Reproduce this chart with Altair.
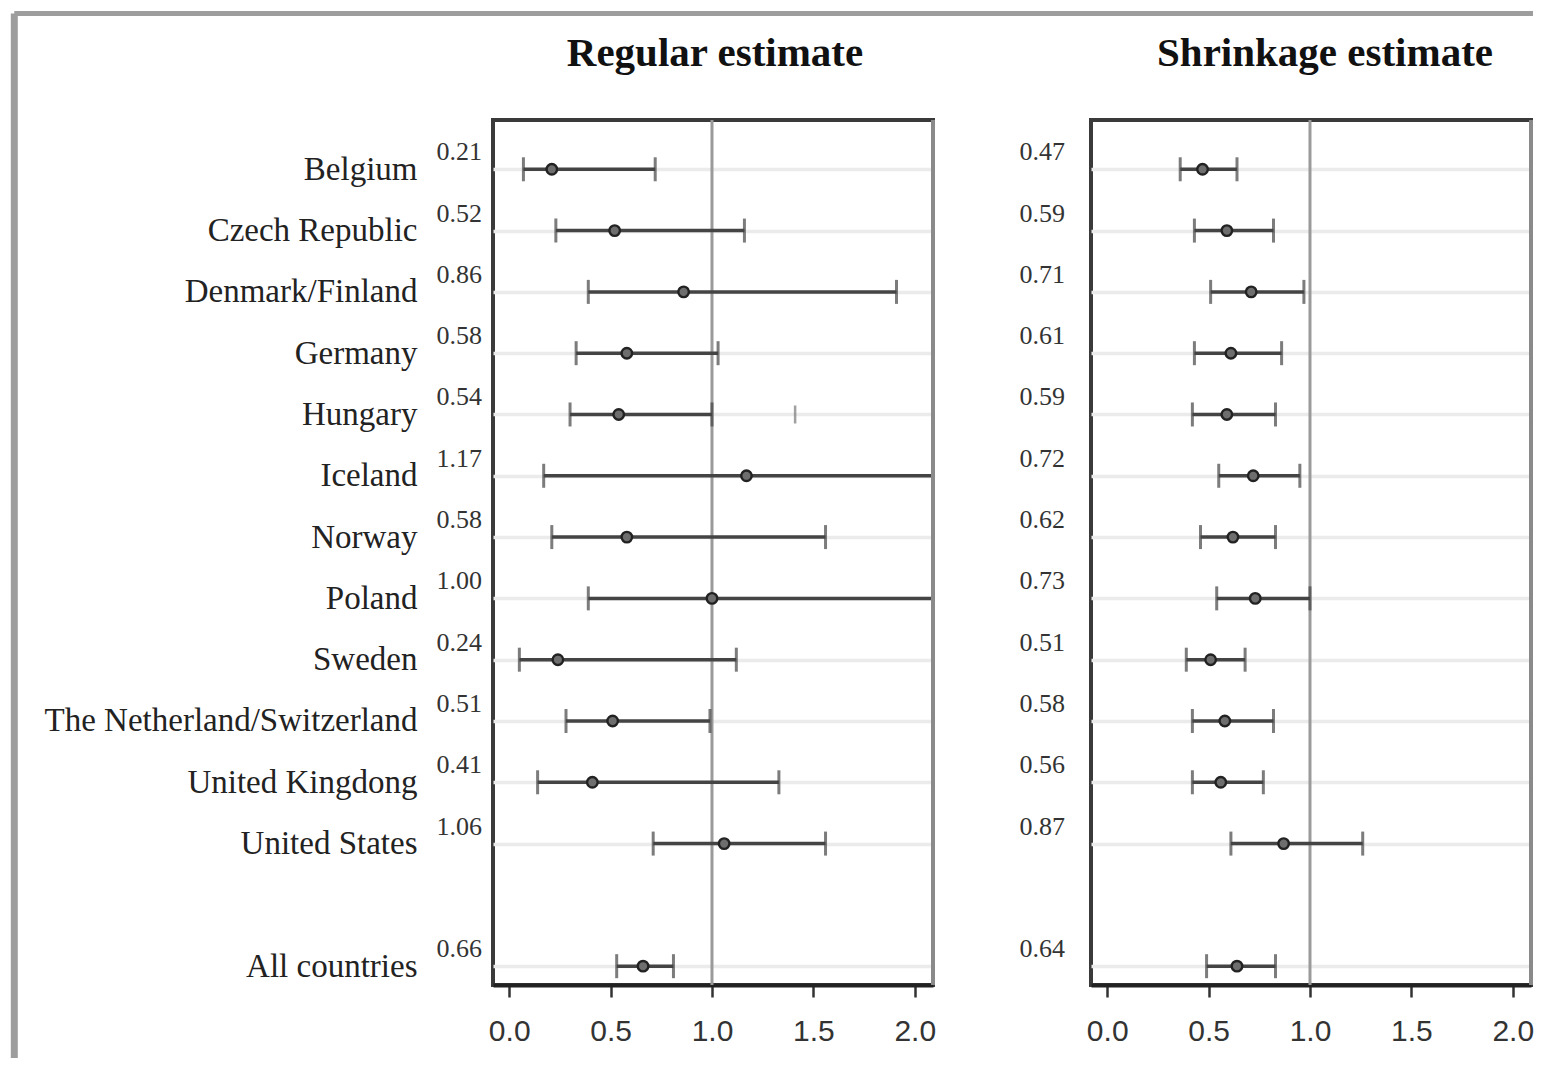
import altair as alt
import pandas as pd

# ---------------- data ----------------
countries = ["Belgium", "Czech Republic", "Denmark/Finland", "Germany", "Hungary",
             "Iceland", "Norway", "Poland", "Sweden", "The Netherland/Switzerland",
             "United Kingdong", "United States", "All countries"]
row_pos = [1, 2, 3, 4, 5, 6, 7, 8, 9, 10, 11, 12, 14]

reg_est = [0.21, 0.52, 0.86, 0.58, 0.54, 1.17, 0.58, 1.00, 0.24, 0.51, 0.41, 1.06, 0.66]
reg_lo = [0.07, 0.23, 0.39, 0.33, 0.30, 0.17, 0.21, 0.39, 0.05, 0.28, 0.14, 0.71, 0.53]
reg_hi = [0.72, 1.16, 1.91, 1.03, 1.00, 2.60, 1.56, 2.80, 1.12, 0.99, 1.33, 1.56, 0.81]

shr_est = [0.47, 0.59, 0.71, 0.61, 0.59, 0.72, 0.62, 0.73, 0.51, 0.58, 0.56, 0.87, 0.64]
shr_lo = [0.36, 0.43, 0.51, 0.43, 0.42, 0.55, 0.46, 0.54, 0.39, 0.42, 0.42, 0.61, 0.49]
shr_hi = [0.64, 0.82, 0.97, 0.86, 0.83, 0.95, 0.83, 1.00, 0.68, 0.82, 0.77, 1.26, 0.83]

panel_titles = ["Regular estimate", "Shrinkage estimate"]
hungary_extra_tick = [1.41]
reference_value = [1.0]
x_ticks = [0, 0.5, 1.0, 1.5, 2.0]

# ---------------- styling ----------------
W, H = 440, 865
XDOM = [-0.08, 2.09]
YDOM = [0.196, 14.307]
SERIF = "Liberation Serif"
LINE = "#444444"

label_list = [""] * 14
for c, p in zip(countries, row_pos):
    label_list[p - 1] = c
label_expr = "[" + ",".join("'" + s + "'" for s in label_list) + "][datum.value - 1]"


def panel(est, lo, hi, title, title_x, val_dx, show_labels, frame):
    df = pd.DataFrame({"country": countries, "pos": row_pos, "est": est, "lo": lo, "hi": hi})
    base = alt.Chart(df)
    xsc = alt.Scale(domain=XDOM, nice=False, zero=False)
    ysc = alt.Scale(domain=YDOM, reverse=True, nice=False, zero=False)
    xaxis = alt.Axis(values=x_ticks, format=".1f", grid=False, domainColor="#222222",
                     domainWidth=4, tickColor="#333333", tickWidth=2.5, tickSize=12,
                     labelFont="Liberation Sans", labelFontSize=30, labelColor="#333333",
                     labelPadding=19, title=None)
    yaxis = alt.Axis(values=row_pos, grid=True, gridColor="#ebebeb", gridWidth=3.5,
                     domain=False, ticks=False, tickSize=0, labels=show_labels,
                     labelExpr=label_expr, labelFont=SERIF, labelFontSize=33,
                     labelLimit=0, labelColor="#222222", labelPadding=76, title=None)
    X = lambda f: alt.X(f, scale=xsc, axis=xaxis)
    Y = alt.Y("pos:Q", scale=ysc, axis=yaxis)

    ref = alt.Chart(pd.DataFrame({"ref": reference_value})).mark_rule(
        color="#9a9a9a", strokeWidth=3).encode(x=X("ref:Q"))
    bars = base.mark_rule(color=LINE, strokeWidth=3.5, clip=True).encode(
        x=X("lo:Q"), x2="hi:Q", y=Y)
    cap_lo = base.mark_tick(orient="vertical", color=LINE, thickness=3, size=24,
                            clip=True).encode(x=X("lo:Q"), y=Y)
    cap_hi = base.mark_tick(orient="vertical", color=LINE, thickness=3, size=24,
                            clip=True).encode(x=X("hi:Q"), y=Y)
    pts = base.mark_circle(color="#6e6e6e", stroke="#222222", strokeWidth=2.4,
                           size=110, opacity=1).encode(x=X("est:Q"), y=Y)
    vals = base.mark_text(align="right", baseline="middle", dy=-17, font=SERIF,
                          fontSize=26, color="#333333").encode(
        x=alt.value(val_dx), y=Y, text=alt.Text("est:Q", format=".2f"))
    right_border = alt.Chart(alt.Data(values=[{}])).mark_rule(
        color="#8a8a8a", strokeWidth=4).encode(
        x=alt.value(W), y=alt.value(0), y2=alt.value(H))
    ttl = alt.Chart(pd.DataFrame({"t": [title]})).mark_text(
        font=SERIF, fontSize=41, fontWeight="bold", color="#111111",
        align="center", baseline="alphabetic").encode(
        x=alt.value(title_x), y=alt.value(-54), text="t:N")

    layers = [ref, bars, cap_lo, cap_hi, pts, vals, right_border, ttl]
    if show_labels:
        stray = alt.Chart(pd.DataFrame({"x": hungary_extra_tick, "pos": [5]})).mark_tick(
            orient="vertical", color="#777777", thickness=2.5, size=18).encode(
            x=X("x:Q"), y=Y)
        layers.append(stray)
    if frame:
        one = alt.Data(values=[{}])
        top = alt.Chart(one).mark_rule(color="#9d9d9d", strokeWidth=5).encode(
            x=alt.value(-478.7), x2=alt.value(1040), y=alt.value(-106.4))
        left = alt.Chart(one).mark_rule(color="#9d9d9d", strokeWidth=7).encode(
            x=alt.value(-478.7), y=alt.value(-106.4), y2=alt.value(938))
        layers += [top, left]

    return alt.layer(*layers).properties(width=W, height=H)


left = panel(reg_est, reg_lo, reg_hi, panel_titles[0], 222, -11, True, True)
right = panel(shr_est, shr_lo, shr_hi, panel_titles[1], 234, -26, False, False)

chart = alt.hconcat(left, right, spacing=158, bounds="flush").properties(
    padding={"left": 0, "top": 0, "right": 0, "bottom": 0}
).configure_view(stroke="#3a3a3a", strokeWidth=4)

chart.save("out.html", embed_options={"renderer": "svg", "actions": False})
